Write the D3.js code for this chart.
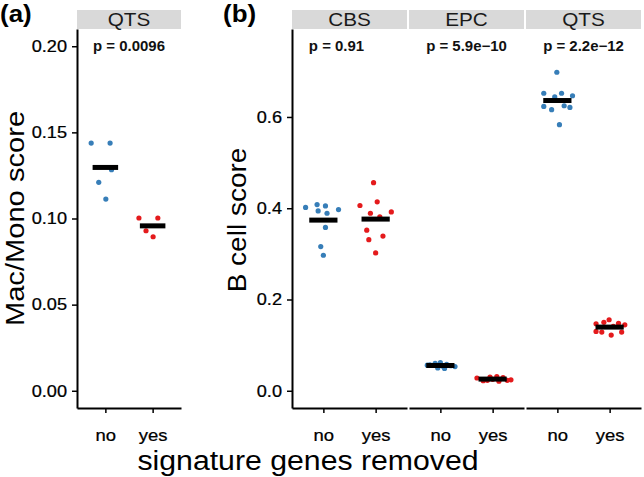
<!DOCTYPE html>
<html><head><meta charset="utf-8">
<script src="https://cdn.jsdelivr.net/npm/d3@7"></script>
<style>
html,body{margin:0;padding:0;background:#fff;}
svg{display:block;font-family:"Liberation Sans",Arial,Helvetica,sans-serif;}
</style></head>
<body>
<script>
// ---------- data ----------
const categories = ["no", "yes"];
const colors = {no: "#377EB8", yes: "#E41A1C"};

// panel (a): Mac/Mono score, QTS
const macMonoNo  = [0.1438, 0.1438, 0.1283, 0.1210, 0.1113];
const macMonoNoJ = [-0.30, 0.10, 0.13, -0.14, 0.01];
const macMonoYes  = [0.1003, 0.1003, 0.0929, 0.0894];
const macMonoYesJ = [-0.29, 0.11, -0.14, 0.01];
const pA = "p = 0.0096";

// panel (b): B cell score
const facetsB = ["CBS", "EPC", "QTS"];
const pB = ["p = 0.91", "p = 5.9e\u221210", "p = 2.2e\u221212"];
const cbsNo  = [0.4017, 0.408, 0.405, 0.397, 0.394, 0.389, 0.358, 0.316, 0.297];
const cbsNoJ = [-0.34, -0.12, 0.04, 0.29, -0.10, 0.07, 0.04, -0.05, 0.00];
const cbsYes  = [0.456, 0.406, 0.414, 0.389, 0.381, 0.392, 0.352, 0.339, 0.331, 0.302];
const cbsYesJ = [-0.04, -0.30, 0.03, -0.10, 0.08, 0.30, -0.17, 0.14, -0.13, 0.00];
const epcNo  = [0.056, 0.060, 0.062, 0.058, 0.053, 0.050, 0.049, 0.057, 0.055, 0.054];
const epcNoJ = [-0.25, -0.10, 0.00, 0.12, 0.28, -0.05, 0.08, -0.20, 0.20, 0.05];
const epcYes  = [0.028, 0.030, 0.031, 0.029, 0.022, 0.021, 0.024, 0.025, 0.023, 0.023];
const epcYesJ = [-0.30, -0.05, 0.08, 0.20, -0.18, 0.12, 0.35, 0.00, -0.10, 0.28];
const qtsNo  = [0.698, 0.652, 0.644, 0.652, 0.6465, 0.623, 0.616, 0.6246, 0.621, 0.583];
const qtsNoJ = [-0.01, -0.26, -0.05, 0.08, 0.29, -0.26, -0.11, 0.13, 0.24, 0.04];
const qtsYes  = [0.1468, 0.1556, 0.148, 0.1446, 0.130, 0.1286, 0.122, 0.1286, 0.141, 0.150];
const qtsYesJ = [-0.26, -0.01, 0.17, 0.29, -0.26, -0.15, 0.03, 0.23, 0.07, -0.11];

const ticksA = [0, 0.05, 0.10, 0.15, 0.20];
const ticksB = [0, 0.2, 0.4, 0.6];
const labelYA = 0.20, labelYB = 0.755;

// ---------- layout ----------
const W = 644, H = 477;
const panelTop = 29, panelBottom = 408, stripTop = 10;
const SX = 1.12; // glyph widening to match the reference font
const svg = d3.select("body").append("svg").attr("width", W).attr("height", H);

function pts(vals, jit, cat) { return vals.map((v, i) => ({cat, v, j: jit[i]})); }

function label(x, y, txt, opt) {
  const o = Object.assign({size: 16, anchor: "middle", weight: "normal", rot: 0, sx: SX, dy: null, fill: "#000"}, opt);
  const t = svg.append("text")
    .attr("transform", `translate(${x},${y}) rotate(${o.rot}) scale(${o.sx},1)`)
    .attr("text-anchor", o.anchor).attr("font-size", o.size).attr("font-weight", o.weight)
    .attr("fill", o.fill).text(txt);
  if (o.dy) t.attr("dy", o.dy);
  return t;
}

function drawPanel(x0, x1, y, data, pLabel, strip, pDx) {
  const x = d3.scalePoint().domain(categories).range([x0, x1]).padding(0.6);
  const step = x.step();
  svg.append("rect").attr("x", x0).attr("y", stripTop).attr("width", x1 - x0)
     .attr("height", panelTop - stripTop).attr("fill", "#d9d9d9");
  label((x0 + x1) / 2, (stripTop + panelTop) / 2, strip, {size: 18.5, dy: "0.36em", fill: "#1a1a1a"});
  const g = svg.append("g");
  g.selectAll("circle").data(data).join("circle")
    .attr("cx", d => x(d.cat) + d.j * step).attr("cy", d => y(d.v))
    .attr("r", 2.6).attr("fill", d => colors[d.cat]);
  categories.forEach(c => {
    const m = d3.mean(data.filter(d => d.cat === c), d => d.v);
    g.append("line").attr("x1", x(c) - 0.27 * step).attr("x2", x(c) + 0.27 * step)
     .attr("y1", y(m)).attr("y2", y(m)).attr("stroke", "#000").attr("stroke-width", 5);
  });
  label((x0 + x1) / 2 + (pDx || 0), y(pLabel.y), pLabel.t,
        {size: 14, weight: "bold", dy: "0.36em", sx: 1.07, fill: "#111"});
  const ax = svg.append("g").attr("transform", `translate(0,${panelBottom})`)
    .call(d3.axisBottom(x).tickSizeInner(5).tickSizeOuter(0).tickPadding(8));
  ax.select(".domain").attr("stroke", "#000").attr("stroke-width", 2);
  ax.selectAll(".tick line").attr("stroke", "#000").attr("stroke-width", 1.5);
  ax.selectAll(".tick text").attr("font-size", 16.5).attr("fill", "#000")
    .attr("font-family", null).attr("y", 0).attr("dy", "1.05em")
    .attr("stroke", "#000").attr("stroke-width", 0.25)
    .attr("transform", `translate(0,16) scale(${SX},1)`);
  return x;
}

function drawYAxis(x0, y, ticks, fmt) {
  const ay = svg.append("g").attr("transform", `translate(${x0},0)`)
    .call(d3.axisLeft(y).tickValues(ticks).tickFormat(d3.format(fmt)).tickSizeInner(5).tickSizeOuter(0).tickPadding(4));
  ay.select(".domain").attr("stroke", "#000").attr("stroke-width", 2);
  ay.selectAll(".tick line").attr("stroke", "#000").attr("stroke-width", 1.5);
  ay.selectAll(".tick text").attr("font-size", 16.5).attr("fill", "#000").attr("font-family", null)
    .attr("x", 0).attr("stroke", "#000").attr("stroke-width", 0.25)
    .attr("transform", `translate(-10,0) scale(1.1,1)`);
}

// ---------- panel (a) ----------
const yA = d3.scaleLinear().domain([0 - 0.05 * labelYA, labelYA * 1.05]).range([panelBottom, panelTop]);
drawPanel(77, 181, yA, pts(macMonoNo, macMonoNoJ, "no").concat(pts(macMonoYes, macMonoYesJ, "yes")),
          {t: pA, y: labelYA}, "QTS", 0);
drawYAxis(77, yA, ticksA, ".2f");

// ---------- panel (b) ----------
const yB = d3.scaleLinear().domain([0 - 0.05 * labelYB, labelYB * 1.05]).range([panelBottom, panelTop]);
const dataB = [
  pts(cbsNo, cbsNoJ, "no").concat(pts(cbsYes, cbsYesJ, "yes")),
  pts(epcNo, epcNoJ, "no").concat(pts(epcYes, epcYesJ, "yes")),
  pts(qtsNo, qtsNoJ, "no").concat(pts(qtsYes, qtsYesJ, "yes"))
];
const facetX = [[292, 407], [409, 524], [526, 641]];
const pDx = [-13, 0, 0];
facetsB.forEach((f, i) => drawPanel(facetX[i][0], facetX[i][1], yB, dataB[i], {t: pB[i], y: labelYB}, f, pDx[i]));
drawYAxis(292, yB, ticksB, ".1f");

// ---------- titles ----------
label(24, 218.5, "Mac/Mono score", {size: 26, rot: -90});
label(246, 220, "B cell score", {size: 25, rot: -90});
label(308, 470, "signature genes removed", {size: 27});
label(0, 22, "(a)", {size: 24, weight: "bold", anchor: "start", sx: 1.08});
label(223, 22, "(b)", {size: 24, weight: "bold", anchor: "start", sx: 1.08});
</script>
</body></html>
